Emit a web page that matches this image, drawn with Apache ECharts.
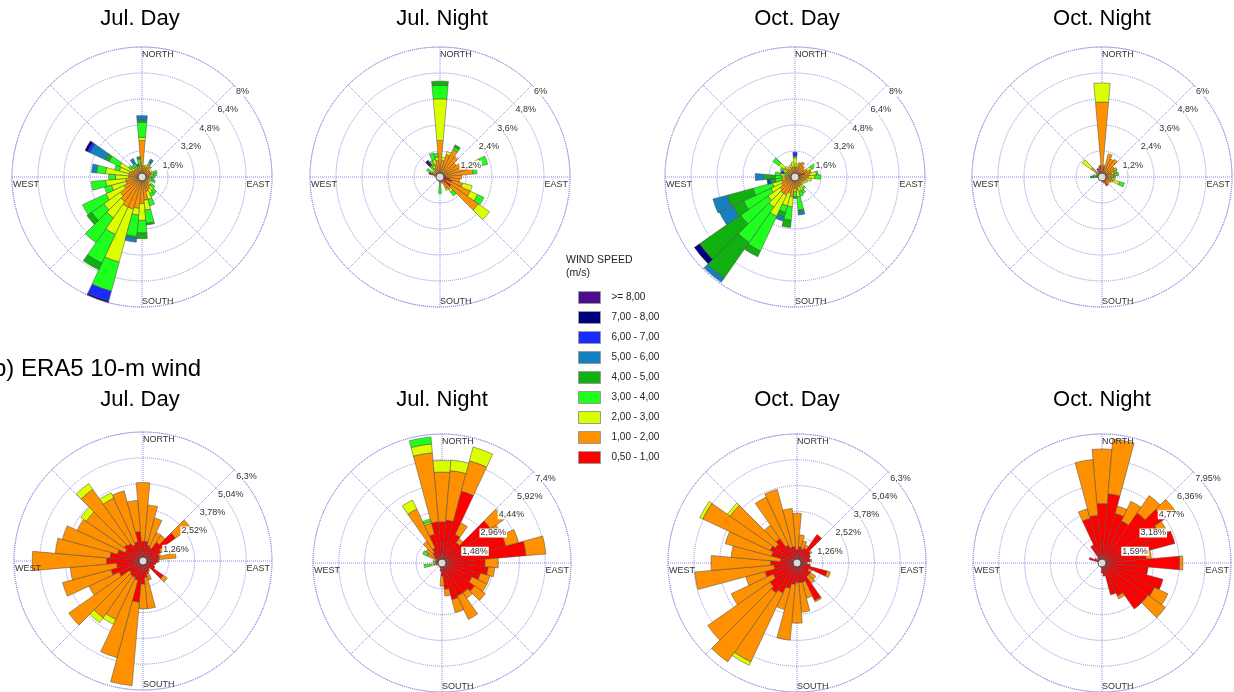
<!DOCTYPE html>
<html>
<head>
<meta charset="utf-8">
<script src="https://cdn.jsdelivr.net/npm/echarts@6/dist/echarts.min.js"></script>
<style>
  html, body { margin: 0; padding: 0; background: #ffffff; }
  #chart { width: 1234px; height: 692px; }
</style>
</head>
<body>
<div id="chart"></div>
<script>
// Wind direction sectors, degrees clockwise from north (10° bins)
const directions = ['0','10','20','30','40','50','60','70','80','90','100','110',
  '120','130','140','150','160','170','180','190','200','210','220','230',
  '240','250','260','270','280','290','300','310','320','330','340','350'];

// Speed classes, slowest first (stacking order from the centre outwards)
const speedClasses = ['0,50 - 1,00','1,00 - 2,00','2,00 - 3,00','3,00 - 4,00','4,00 - 5,00',
  '5,00 - 6,00','6,00 - 7,00','7,00 - 8,00','>= 8,00'];
const speedColors = ['#ff0000','#ff9100','#dcff00','#1eff1e','#0fb00f','#1580c0','#1a2bff','#00007e','#4d0c8f'];

const rowTitles = ['Jul. Day','Jul. Night','Oct. Day','Oct. Night'];
const sectionTitle = '(b) ERA5 10-m wind';

// Frequency (%) per direction; each row lists the classes in speedClasses order
const obsJulDay = [
  [0.2,2.05,0.2,0.92,0.14,0.27],
  [0.16,0.55],
  [0.16,0.45,0.16],
  [0.16,0.55,0.1,0.16,0,0.25],
  [0.2,0.62],
  [0.3,0.3],
  [0.2,0.37,0.14],
  [0.16,0.45,0.16,0.2],
  [0.16,0.35,0.2,0.2],
  [0.16,0.29,0.12,0.2],
  [0.16,0.25,0.16,0.14],
  [0.16,0.29,0.2,0.2],
  [0.16,0.25,0.16],
  [0.16,0.35,0.2,0.27],
  [0.16,0.55,0.31,0.25],
  [0.16,0.66,0.31,0.2],
  [0.16,0.76,0.51,0.41],
  [0.2,1.23,0.62,0.82,0.1],
  [0.2,1.44,1.03,0.78,0.35],
  [0.2,1.74,0.41,1.33,0.1,0.25],
  [0.2,1.85,3.38,1.85,0,0,0.62,0.31],
  [0.2,1.85,1.85,1.95,0.45],
  [0.2,1.64,1.23,1.87],
  [0.2,1.44,1.23,0.92,0.35],
  [0.2,1.03,1.23,1.58],
  [0.2,0.82,0.92,0.45],
  [0.2,0.82,1.23,0.88],
  [0.2,0.62,0.82,0.41],
  [0.2,0.62,1.44,0.55,0,0.31],
  [0.2,0.62,0.62,0.31],
  [0.2,0.51,0.82,0.72,0.25,1.03,0.16,0.18],
  [0.16,0.45,0.2,0.2],
  [0.16,0.45,0.1,0.2],
  [0.16,0.45,0.1,0.2,0,0.35],
  [0.16,0.29,0.12,0.14,0.14],
  [0.16,0.55,0.1,0.31,0.14]
];

const obsJulNight = [
  [0.12,1.57,1.92,0.62,0.2],
  [0.12,0.65,0.15],
  [0.12,0.95,0.15],
  [0.12,1.29,0,0.12,0.11],
  [0.12,1.03],
  [0.15,0.77],
  [0.15,0.92],
  [0.15,1.38,0.46,0.29],
  [0.23,1.31,0,0.18],
  [0.31,0.69],
  [0.46,0.46],
  [0.58,0.5,0.46],
  [0.31,1.23,0.38,0.32],
  [0.62,1.54,0.63],
  [0.23,0.46,0.15,0.23],
  [0.15,0.46,0.08],
  [0.15,0.15],
  [0.12,0.11],
  [0.12,0.18,0.08,0.38],
  [0.12,0.11],
  [0.1,0.08],
  [0.1,0.05],
  [0.08,0.05],
  [0.08,0.05],
  [0.08,0.05],
  [0.08,0.08],
  [0.08,0.08],
  [0.12,0.08],
  [0.12,0.11],
  [0.54],
  [0.15,0.15,0,0.38],
  [0.12,0.18,0.12],
  [0.12,0.26,0.08,0.18,0.05,0,0,0,0.26],
  [0.12,0.34,0.15,0.23],
  [0.12,0.49,0.23,0.31],
  [0.12,0.65,0.15,0.18]
];

const obsOctDay = [
  [0.16,0.45,0.57,0.1,0,0,0.25],
  [0.16,0.45,0.2],
  [0.2,0.72],
  [0.2,0.82],
  [0.41,0.41],
  [0.31,0.41],
  [0.41,0.41,0.31,0.31],
  [0.62,0.41],
  [0.2,0.72,0.41,0.1],
  [0.2,0.62,0.41,0.35],
  [0.2,0.51,0.31],
  [0.16,0.45,0.2],
  [0.16,0.35,0.2],
  [0.16,0.35,0.1],
  [0.16,0.45,0.2,0.1],
  [0.16,0.45,0.31,0.2],
  [0.16,0.45,0.31,0.31],
  [0.16,0.66,0.41,0.82,0.1,0.2],
  [0.16,0.55,0.2,0.31,0.1],
  [0.2,1.03,0.62,0.82,0.45],
  [0.2,0.82,0.82,0.41,0.31,0.25],
  [0.2,1.03,1.44,2.36,0.39],
  [0.2,1.03,1.03,2.67,2.67,0.31],
  [0.2,0.92,0.92,2.05,3.08,0,0,0.39],
  [0.2,0.72,0.72,1.85,0.72,0.92],
  [0.2,0.62,0.62,1.23,1.64,0.92],
  [0.16,0.45,0.2,0.41,0.31,0,0.2],
  [0.16,0.45,0.2,0.41,0.72,0.51],
  [0.16,0.45,0.31,0.31],
  [0.16,0.25,0,0.31,0,0,0.2],
  [0.16,0.45,0.2,0.2],
  [0.16,0.66,0.41,0.43],
  [0.16,0.45,0.2],
  [0.16,0.35,0.2],
  [0.16,0.45,0.2],
  [0.16,0.45,0.31]
];

const obsOctNight = [
  [0.15,3.31,0.88],
  [0.46,0.1],
  [0.23,0.88],
  [0.23,0.69],
  [0.23,0.77],
  [0.23,0.46],
  [0.31,0.46],
  [0.15,0.31,0.12,0.15],
  [0.15,0.46,0.08,0.08],
  [0.15,0.38,0,0.08],
  [0.15,0.31,0.15],
  [0.15,0.38,0.31,0.23],
  [0.15,0.31],
  [0.15,0.23],
  [0.15,0.31],
  [0.46],
  [0.15,0.15],
  [0.12,0.12],
  [0.12,0.08],
  [0.1,0.08],
  [0.08,0.05],
  [0.08,0.05],
  [0.08,0.05],
  [0.08,0.05],
  [0.08,0.05],
  [0.08,0.05],
  [0.08,0.05],
  [0.12,0.11,0,0.15,0.15],
  [0.12,0.15,0,0.15],
  [0.1,0.15],
  [0.12,0.2],
  [0.12,0.49,0.51],
  [0.1,0.15],
  [0.08,0.1,0,0,0,0,0.25],
  [0.12,0.34],
  [0.54]
];

const era5JulDay = [
  [0.97,2.86],[0.97,1.78],[0.81,1.37],[0.73,0.81],[1.13,0.4],[1.94,0.9],
  [0.97,0.16],[0.81,0.08],[0.81,0.81],[0.73,0.05],[0.65],[0.57],
  [0.65],[1.21,0.24],[0.48],[0.57],[0.65,0.32],[0.81,1.53],
  [1.13,1.21],[2.02,4.09],[0.97,3.92],[0.89,2.26,0.26],[0.89,2.5,0.29],[0.81,3.62],
  [1.29,1.62],[1.62,2.45],[1.29,2.28],[1.78,3.63],[1.62,2.68],[1.29,2.79],
  [0.97,2.58],[1.13,2.26,0.32],[1.05,3.23,0.34],[0.89,2.5,0.29],[0.97,2.58],[1.45,1.53]
];

const era5JulNight = [
  [2.37,2.85,0.66],[2.47,2.85,0.61],[4.27,1.8,0.82],[1.8,0.74],[1.42,0.28],[3.41,0.95],
  [3.41,0.38],[3.79,0.76],[4.84,1.14],[2.47,0.76],[2.66,0.38],[2.28,0.57],
  [1.9,0.95],[2.28,0.76],[2.09,0.38],[2.09,1.48],[2.18,0.76],[1.52,0.38],
  [0.76,0.57],[0.47],[0.3],[0.25],[0.2],[0.2],
  [0.2],[0.25,0.1],[0.28,0.19,0.19,0.38],[0.38],[0.28,0.1,0,0.15],[0.3,0.1],
  [0.38,0.57,0,0.28],[0.57,0.57],[0.76,0.76],[0.95,2.47,0.57],[1.71,0.66,0.1,0.15],[2.37,3.98,0.51,0.4]
];

const era5OctDay = [
  [0.65,1.78],[0.81,0.57],[0.73,0.4],[0.81,0.16],[1.7],[0.81,0.08],
  [0.73],[0.65],[0.65,0.08],[0.48],[0.65],[1.53,0.16],
  [0.65,0.16],[0.81,0.32],[0.81,0.4],[2.02,0.08],[0.97,0.81],[0.97,1.45],
  [0.97,1.97],[1.05,2.73],[1.29,1.07],[1.62,3.71,0.19],[1.78,4.12],[1.62,3.71],
  [1.29,2.26],[1.62,0.97],[1.13,3.88],[1.29,2.91],[0.81,2.42],[1.29,2.34],
  [1.45,3.63,0.16],[1.29,2.7,0.16],[1.45,0.81],[0.97,2.58],[0.81,2.91],[0.81,1.86]
];

const era5OctNight = [
  [3.67,3.36],[4.28,3.38],[3.16,0.47],[2.85,1.35],[3.77,1.3],[4.69,0.86],
  [3.97,0.49],[4.65],[2.75,0.31],[4.79,0.2],[2.85],[3.89],
  [3.57,0.92],[3.46,1.3],[3.46],[2.24,0.2],[2.04],[0.82],
  [0.61],[0.3],[0.15],[0.15],[0.15],[0.15],
  [0.15],[0.15],[0.15],[0.15],[0.15],[0.82],
  [0.5],[0.3],[0.4],[1.22],[2.85,0.61],[2.96,3.44]
];

const roseData = [obsJulDay, obsJulNight, obsOctDay, obsOctNight,
                  era5JulDay, era5JulNight, era5OctDay, era5OctNight];

// Ring scale of each rose (five rings, outermost = max)
const ringStep = [1.6, 1.2, 1.6, 1.2, 1.26, 1.48, 1.26, 1.59];
const ringLabels = [
  ['1,6%','3,2%','4,8%','6,4%','8%'],
  ['1,2%','2,4%','3,6%','4,8%','6%'],
  ['1,6%','3,2%','4,8%','6,4%','8%'],
  ['1,2%','2,4%','3,6%','4,8%','6%'],
  ['1,26%','2,52%','3,78%','5,04%','6,3%'],
  ['1,48%','2,96%','4,44%','5,92%','7,4%'],
  ['1,26%','2,52%','3,78%','5,04%','6,3%'],
  ['1,59%','3,18%','4,77%','6,36%','7,95%']
];
const compassLabels = ['NORTH','EAST','SOUTH','WEST'];

// Layout
const roseCenters = [[142,177],[440,177],[795,177],[1102,177],
                     [143,561],[442,563],[797,563],[1102,563]];
const roseRadius = [130,130,130,130,129,129,129,129];
const titleX = [140,442,797,1102];
const titleY = [19, 400];

const FONT = '"Liberation Sans", Arial, sans-serif';
const gridLine = { color: '#8b8be3', type: 'dotted', width: 1 };

const chart = echarts.init(document.getElementById('chart'), null, { renderer: 'canvas' });

const polar = [], angleAxis = [], radiusAxis = [], series = [];
const dotSeries = [];

roseData.forEach((rows, k) => {
  const center = roseCenters[k];
  const maxVal = ringStep[k] * 5;
  const gIdx = 2 * k, bIdx = 2 * k + 1;

  // polar carrying rings and compass spokes
  polar.push({ center: center, radius: [0, roseRadius[k]] });
  angleAxis.push({
    polarIndex: gIdx, type: 'value', min: 0, max: 360, interval: 45,
    startAngle: 90, clockwise: true, z: 0,
    axisLine: { show: true, lineStyle: gridLine },
    axisTick: { show: false }, axisLabel: { show: false },
    splitLine: { show: true, lineStyle: gridLine }
  });
  radiusAxis.push({
    polarIndex: gIdx, type: 'value', min: 0, max: maxVal, interval: ringStep[k], z: 0,
    axisLine: { show: false }, axisTick: { show: false }, axisLabel: { show: false },
    splitLine: { show: true, lineStyle: gridLine }
  });

  // polar carrying the stacked direction sectors (10° each, centred on the direction)
  polar.push({ center: center, radius: [0, roseRadius[k]] });
  angleAxis.push({
    polarIndex: bIdx, type: 'category', data: directions, startAngle: 95, clockwise: true,
    axisLine: { show: false }, axisTick: { show: false }, axisLabel: { show: false },
    splitLine: { show: false }, splitArea: { show: false }
  });
  radiusAxis.push({
    polarIndex: bIdx, type: 'value', min: 0, max: maxVal,
    axisLine: { show: false }, axisTick: { show: false }, axisLabel: { show: false },
    splitLine: { show: false }, splitArea: { show: false }
  });

  speedClasses.forEach((name, c) => {
    const vals = rows.map(r => (r[c] ? r[c] : null));
    if (vals.every(v => v === null)) return;
    series.push({
      type: 'bar', name: name, coordinateSystem: 'polar', polarIndex: bIdx,
      stack: 'rose' + k, data: vals, barCategoryGap: '0%', silent: true,
      itemStyle: { color: speedColors[c], borderColor: '#4a4a4a', borderWidth: 0.5 },
      z: 2
    });
  });

  // small hub at the centre of each rose
  dotSeries.push(series.length);
  series.push({
    type: 'scatter', coordinateSystem: 'polar', polarIndex: gIdx, data: [[0, 0]],
    symbol: 'circle', symbolSize: 8, silent: true, z: 5,
    itemStyle: { color: '#ffffff', borderColor: '#333333', borderWidth: 1 }
  });
});

const legendOrder = speedClasses.slice().reverse();

chart.setOption({
  animation: false,
  backgroundColor: '#ffffff',
  polar: polar,
  angleAxis: angleAxis,
  radiusAxis: radiusAxis,
  legend: {
    data: legendOrder, orient: 'vertical', left: 578, top: 291, padding: 0,
    itemWidth: 22, itemHeight: 12, itemGap: 7, icon: 'rect', selectedMode: false,
    itemStyle: { borderColor: '#9a9a9a', borderWidth: 1 },
    textStyle: { fontSize: 10, color: '#222', fontFamily: FONT, padding: [0, 0, 0, 6] }
  },
  series: series
});

// Titles, ring values and compass words
const graphics = [];
const txt = (x, y, text, size, align, vAlign, extra) => Object.assign({
  type: 'text', x: x, y: y, z: 100, silent: true,
  style: Object.assign({ text: text, fontSize: size, fontFamily: FONT, fill: '#222',
    align: align, verticalAlign: vAlign }, extra || {})
});

roseData.forEach((rows, k) => {
  const sIdx = dotSeries[k];
  const maxVal = ringStep[k] * 5;
  const toPx = (r, a) => chart.convertToPixel({ seriesIndex: sIdx }, [r, a]);
  const row = k < 4 ? 0 : 1;
  graphics.push(txt(titleX[k % 4], titleY[row], rowTitles[k % 4], 22, 'center', 'middle', { fill: '#000' }));

  ringLabels[k].forEach((label, i) => {
    const p = toPx(ringStep[k] * (i + 1), 45);
    graphics.push(txt(p[0] + 1, p[1] + 2, label, 9, 'left', 'top',
      { fill: '#333', backgroundColor: '#ffffff', padding: [0, 1, 0, 1] }));
  });

  const n = toPx(maxVal, 0), e = toPx(maxVal, 90), s = toPx(maxVal, 180), w = toPx(maxVal, 270);
  graphics.push(txt(n[0], n[1] + 3, compassLabels[0], 9, 'left', 'top', { fill: '#333' }));
  graphics.push(txt(e[0] - 2, e[1] + 3, compassLabels[1], 9, 'right', 'top', { fill: '#333' }));
  graphics.push(txt(s[0], s[1] - 1, compassLabels[2], 9, 'left', 'bottom', { fill: '#333' }));
  graphics.push(txt(w[0] + 1, w[1] + 3, compassLabels[3], 9, 'left', 'top', { fill: '#333' }));
});

graphics.push(txt(-15, 369, sectionTitle, 24, 'left', 'middle', { fill: '#000' }));
graphics.push(txt(566, 260, 'WIND SPEED', 10.5, 'left', 'middle', { fill: '#222' }));
graphics.push(txt(566, 273, '(m/s)', 10.5, 'left', 'middle', { fill: '#222' }));

chart.setOption({ graphic: graphics });
</script>
</body>
</html>
